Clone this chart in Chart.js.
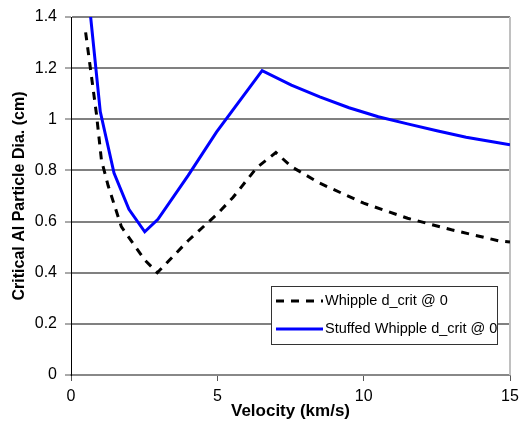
<!DOCTYPE html>
<html>
<head>
<meta charset="utf-8">
<script src="https://cdn.jsdelivr.net/npm/chart.js@4"></script>
<style>
  html, body { margin: 0; padding: 0; background: #fff; }
  #wrap { width: 521px; height: 424px; }
</style>
</head>
<body>
<div id="wrap"><canvas id="chart" width="521" height="424"></canvas></div>
<script>
// velocities (km/s) and critical diameters (cm)
const whippleV = [0.5, 0.87, 1.04, 1.27, 1.72, 2.52, 2.95, 4.0, 5.0, 5.54, 6.34, 7.0, 7.53, 8.5, 10.0, 11.5, 13.0, 14.6, 15.0];
const whippleD = [1.34, 1.02, 0.84, 0.74, 0.58, 0.45, 0.40, 0.525, 0.63, 0.695, 0.81, 0.87, 0.815, 0.75, 0.672, 0.613, 0.568, 0.525, 0.52];

const stuffedV = [0.6, 1.0, 1.47, 1.98, 2.52, 2.97, 4.0, 4.97, 6.53, 7.53, 8.5, 9.5, 10.5, 11.5, 12.5, 13.5, 14.5, 15.0];
const stuffedD = [1.48, 1.03, 0.79, 0.648, 0.56, 0.609, 0.78, 0.95, 1.19, 1.134, 1.088, 1.045, 1.01, 0.982, 0.955, 0.93, 0.91, 0.90];

const seriesNames = ["Whipple d_crit @ 0", "Stuffed Whipple d_crit @ 0"];
const xTicks = [0, 5, 10, 15];
const yTicks = [0, 0.2, 0.4, 0.6, 0.8, 1, 1.2, 1.4];

const FONT = "'Liberation Sans', Arial, sans-serif";

function toPoints(xs, ys) {
  return xs.map((x, i) => ({ x: x, y: ys[i] }));
}

// draws the boxed legend inside the plot, like the original
const boxLegend = {
  id: "boxLegend",
  afterDraw(chart) {
    const ctx = chart.ctx;
    const x0 = 271, y0 = 286, w = 226, h = 58;
    ctx.save();
    ctx.fillStyle = "#fff";
    ctx.fillRect(x0, y0, w, h);
    ctx.strokeStyle = "#333";
    ctx.lineWidth = 1;
    ctx.strokeRect(x0 + 0.5, y0 + 0.5, w, h);
    ctx.font = "14.5px " + FONT;
    ctx.textBaseline = "middle";
    chart.data.datasets.forEach((ds, i) => {
      const ly = y0 + 15 + i * 28;
      ctx.beginPath();
      ctx.strokeStyle = ds.borderColor;
      ctx.lineWidth = ds.borderWidth;
      ctx.setLineDash(ds.borderDash || []);
      ctx.moveTo(x0 + 5, ly);
      ctx.lineTo(x0 + 52, ly);
      ctx.stroke();
      ctx.setLineDash([]);
      ctx.fillStyle = "#000";
      ctx.fillText(ds.label, x0 + 54, ly);
    });
    ctx.restore();
  }
};

// light grey frame on the right side of the plot
const rightBorder = {
  id: "rightBorder",
  beforeDatasetsDraw(chart) {
    const a = chart.chartArea, ctx = chart.ctx;
    ctx.save();
    ctx.strokeStyle = "#c0c0c0";
    ctx.lineWidth = 2;
    ctx.beginPath();
    ctx.moveTo(a.right, a.top);
    ctx.lineTo(a.right, a.bottom);
    ctx.stroke();
    ctx.restore();
  }
};

new Chart(document.getElementById("chart"), {
  type: "line",
  data: {
    datasets: [{
      label: seriesNames[0],
      data: toPoints(whippleV, whippleD),
      borderColor: "#000",
      borderWidth: 3,
      borderDash: [8, 7],
      pointRadius: 0,
      fill: false,
      tension: 0
    }, {
      label: seriesNames[1],
      data: toPoints(stuffedV, stuffedD),
      borderColor: "#0000ff",
      borderWidth: 3,
      pointRadius: 0,
      fill: false,
      tension: 0
    }]
  },
  options: {
    responsive: false,
    animation: false,
    clip: 0,
    layout: { padding: { top: 17, right: 11, left: 10, bottom: 0 } },
    plugins: {
      legend: { display: false },
      tooltip: { enabled: false }
    },
    scales: {
      x: {
        type: "linear",
        min: 0,
        max: 15,
        afterBuildTicks: (axis) => { axis.ticks = xTicks.map(v => ({ value: v })); },
        afterFit: (axis) => {
          axis.height = 49;
          axis.paddingLeft = 0;
          axis.paddingRight = 0;
        },
        ticks: {
          color: "#000",
          font: { size: 16, family: FONT },
          maxRotation: 0,
          padding: 6
        },
        grid: { drawOnChartArea: false, tickLength: 6, color: "#555" },
        border: { color: "#888", width: 2 },
        title: {
          display: true,
          text: "Velocity (km/s)",
          color: "#000",
          font: { size: 17, weight: "bold", family: FONT },
          padding: { top: 0, bottom: 2 }
        }
      },
      y: {
        min: 0,
        max: 1.4,
        afterBuildTicks: (axis) => { axis.ticks = yTicks.map(v => ({ value: v })); },
        afterFit: (axis) => {
          axis.width = 61;
          axis.paddingTop = 0;
          axis.paddingBottom = 0;
        },
        ticks: {
          color: "#000",
          font: { size: 16, family: FONT },
          padding: 8,
          callback: (v) => String(+v.toFixed(1))
        },
        grid: { color: "#808080", lineWidth: 2, tickLength: 6, tickColor: "#555", tickWidth: 1 },
        border: { color: "#000", width: 1 },
        title: {
          display: true,
          text: "Critical Al Particle Dia. (cm)",
          color: "#000",
          font: { size: 16, weight: "bold", family: FONT },
          padding: { top: 0, bottom: 4 }
        }
      }
    }
  },
  plugins: [rightBorder, boxLegend]
});
</script>
</body>
</html>
